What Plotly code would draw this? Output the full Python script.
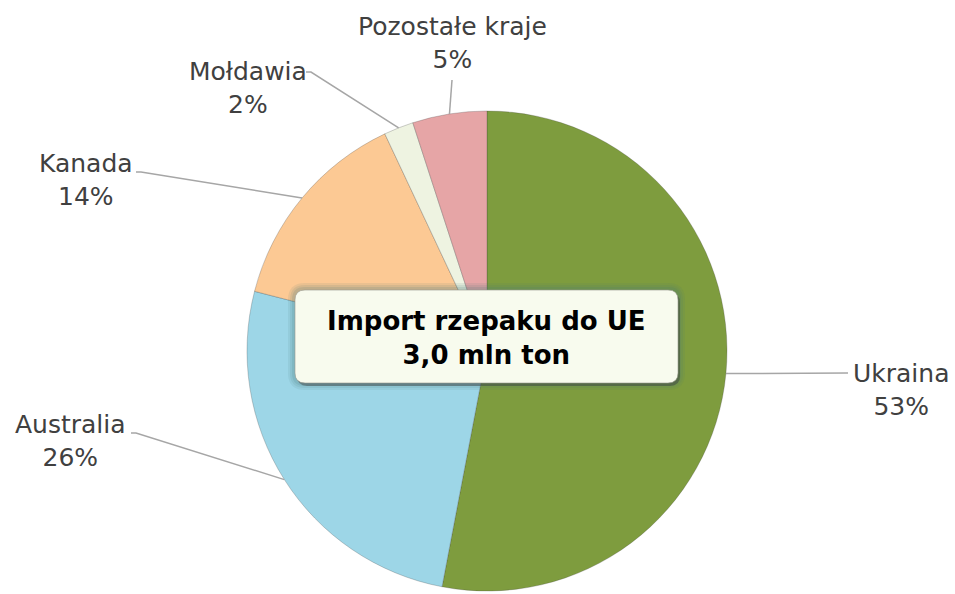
import numpy as np
import plotly.graph_objects as go

# data
countries = ['Ukraina', 'Australia', 'Kanada', 'Mołdawia', 'Pozostałe kraje']
shares = [53, 26, 14, 2, 5]
colors = ['#7E9C3E', '#9DD6E7', '#FCC994', '#EEF3E1', '#E6A5A6']
title_lines = ['Import rzepaku do UE', '3,0 mln ton']

W, H = 955, 594
cx, cy, r = 487, 351, 240

# label anchor (text centre) and end of the leader line, in pixels
label_pos = {
    'Ukraina': (901, 390, 848, 373),
    'Australia': (70, 441, 136, 433),
    'Kanada': (86, 180, 141, 172),
    'Mołdawia': (248, 88, 311, 72),
    'Pozostałe kraje': (452, 43, 452, 80),
}


def px(x):
    return x / W


def py(y):
    return 1 - y / H


fig = go.Figure()
fig.add_trace(go.Pie(
    labels=countries,
    values=shares,
    sort=False,
    direction='clockwise',
    rotation=0,
    marker=dict(colors=colors, line=dict(color='rgba(60,60,60,0.25)', width=1)),
    textinfo='none',
    hoverinfo='label+percent',
    showlegend=False,
    domain=dict(x=[px(cx - r), px(cx + r)], y=[py(cy + r), py(cy - r)]),
))

# leader lines + labels, starting at the slice mid angle on the rim
total = sum(shares)
cum = 0
for name, val in zip(countries, shares):
    mid = (cum + val / 2) / total * 2 * np.pi
    cum += val
    x0 = cx + r * np.sin(mid)
    y0 = cy - r * np.cos(mid)
    tx, ty, ex, ey = label_pos[name]
    pts = [(x0, y0), (ex, ey)]
    if name in ('Australia', 'Kanada', 'Mołdawia'):
        pts.append((ex - 5, ey))
    path = 'M ' + ' L '.join(f'{px(a):.5f},{py(b):.5f}' for a, b in pts)
    fig.add_shape(type='path', xref='paper', yref='paper', path=path,
                  line=dict(color='#A6A6A6', width=1.5))
    fig.add_annotation(x=px(tx), y=py(ty), xref='paper', yref='paper',
                       xanchor='center', yanchor='middle',
                       text=f'{name}<br>{val}%', showarrow=False,
                       font=dict(family='DejaVu Sans', size=25, color='#404040'),
                       align='center')


def rounded(x0, y0, x1, y1, rad):
    p = [
        (x0 + rad, y0), (x1 - rad, y0), ('Q', x1, y0, x1, y0 + rad),
        (x1, y1 - rad), ('Q', x1, y1, x1 - rad, y1), (x0 + rad, y1),
        ('Q', x0, y1, x0, y1 - rad), (x0, y0 + rad), ('Q', x0, y0, x0 + rad, y0),
    ]
    s = f'M {px(p[0][0]):.5f},{py(p[0][1]):.5f}'
    for q in p[1:]:
        if q[0] == 'Q':
            s += f' Q {px(q[1]):.5f},{py(q[2]):.5f} {px(q[3]):.5f},{py(q[4]):.5f}'
        else:
            s += f' L {px(q[0]):.5f},{py(q[1]):.5f}'
    return s + ' Z'


# centre box: glow, shadow, box
bx0, by0, bx1, by1 = 295, 290, 678, 383
for g, a in [(7, 0.10), (5, 0.12), (3, 0.15)]:
    fig.add_shape(type='path', xref='paper', yref='paper',
                  path=rounded(bx0 - g, by0 - g, bx1 + g, by1 + g, 10 + g),
                  fillcolor=f'rgba(70,120,120,{a})', line=dict(width=0))
fig.add_shape(type='path', xref='paper', yref='paper',
              path=rounded(bx0 + 2, by0 + 3, bx1 + 2, by1 + 3, 10),
              fillcolor='rgba(60,60,60,0.45)', line=dict(width=0))
fig.add_shape(type='path', xref='paper', yref='paper',
              path=rounded(bx0, by0, bx1, by1, 10),
              fillcolor='#F8FBEE', line=dict(color='rgba(150,150,140,0.6)', width=1))
fig.add_annotation(x=px((bx0 + bx1) / 2), y=py((by0 + by1) / 2 + 1), xref='paper', yref='paper',
                   xanchor='center', yanchor='middle',
                   text='<b>' + '<br>'.join(title_lines) + '</b>', showarrow=False,
                   font=dict(family='DejaVu Sans', size=26, color='#000000'),
                   align='center')

fig.update_layout(
    width=W, height=H,
    margin=dict(l=0, r=0, t=0, b=0),
    paper_bgcolor='white',
    plot_bgcolor='white',
)

# drop the default 8px body margin so the figure sits at the page origin
fig.write_html("out.html", config={'displayModeBar': False},
               post_script="document.body.style.margin='0';")
